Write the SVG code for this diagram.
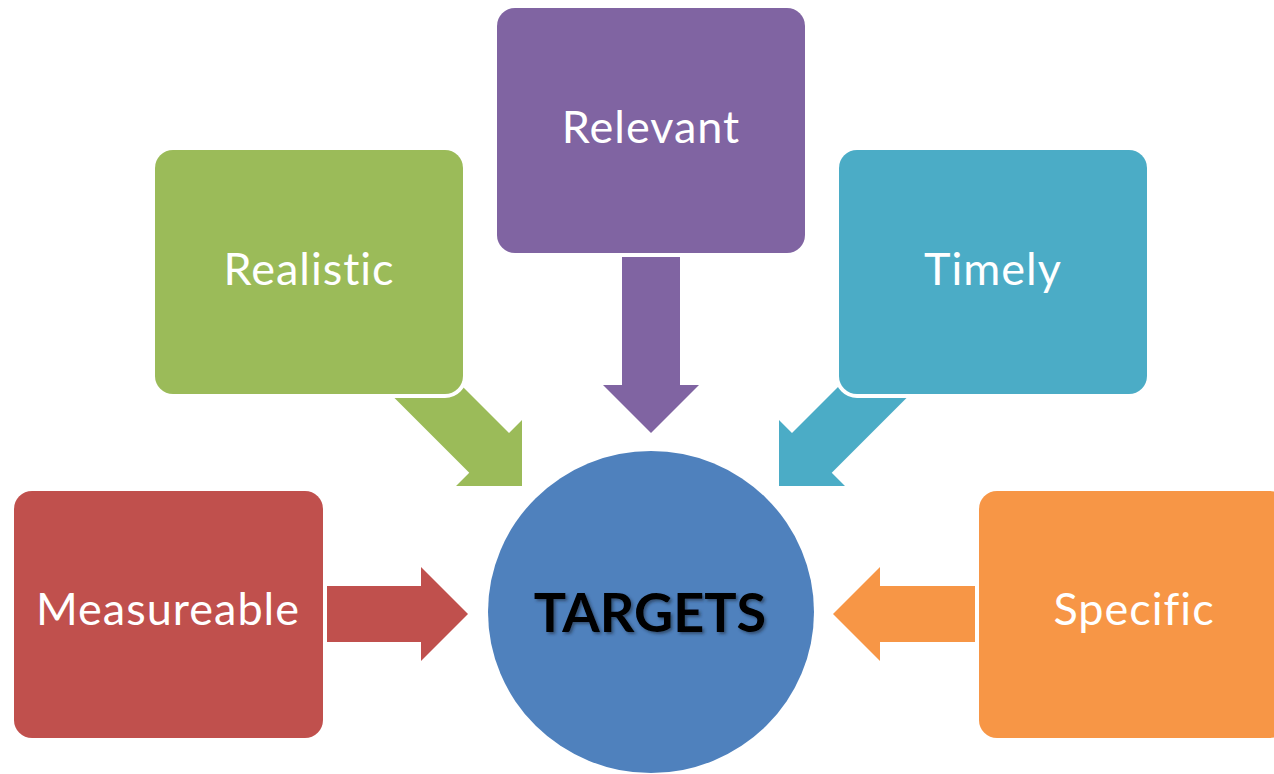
<svg xmlns="http://www.w3.org/2000/svg" width="1274" height="774" viewBox="0 0 1274 774">
<defs>
<style>
.box{stroke:#ffffff;stroke-width:8;paint-order:stroke}
.lbl{font-family:Lato,"Open Sans","Liberation Sans",sans-serif;font-size:45px;letter-spacing:1px;fill:#ffffff;text-anchor:middle}
.hub{font-family:Lato,"Open Sans","Liberation Sans",sans-serif;font-size:54px;font-weight:bold;fill:#000000;text-anchor:middle}
</style>
<filter id="sh" x="-10%" y="-30%" width="120%" height="160%">
<feDropShadow dx="2" dy="2" stdDeviation="1.5" flood-color="#1a2a40" flood-opacity="0.6"/>
</filter>
</defs>
<rect width="1274" height="774" fill="#ffffff"/>
<g id="connectors">
<polygon fill="#C0504D" points="300,586 421,586 421,567 468,614 421,661 421,642 300,642"/>
<polygon fill="#F79646" points="1001,586 880,586 880,567 833,614 880,661 880,642 1001,642"/>
<polygon fill="#8064A2" points="622,230 680,230 680,385 699,385 651,433 603,385 622,385"/>
<polygon fill="#9BBB59" points="378.25,381.75 469.25,472.75 456,486 522,486 522,420 509,433 418,342"/>
<polygon fill="#4BACC6" points="922.75,381.75 831.75,472.75 845,486 779,486 779,420 792,433 883,342"/>
</g>
<g id="measureable">
<rect class="box" x="14" y="491" width="309" height="247" rx="18" fill="#C0504D"/>
<text class="lbl" x="168" y="625">Measureable</text>
</g>
<g id="realistic">
<rect class="box" x="155" y="150" width="308" height="244" rx="18" fill="#9BBB59"/>
<text class="lbl" x="309" y="285">Realistic</text>
</g>
<g id="relevant">
<rect class="box" x="497" y="8" width="308" height="245" rx="18" fill="#8064A2"/>
<text class="lbl" x="651" y="143">Relevant</text>
</g>
<g id="timely">
<rect class="box" x="839" y="150" width="308" height="244" rx="18" fill="#4BACC6"/>
<text class="lbl" x="993" y="285">Timely</text>
</g>
<g id="specific">
<rect class="box" x="979" y="491" width="309" height="247" rx="18" fill="#F79646"/>
<text class="lbl" x="1134" y="625">Specific</text>
</g>
<g id="targets">
<ellipse cx="651" cy="612" rx="163" ry="161" fill="#4F81BD"/>
<text class="hub" x="650" y="632" filter="url(#sh)">TARGETS</text>
</g>
</svg>
